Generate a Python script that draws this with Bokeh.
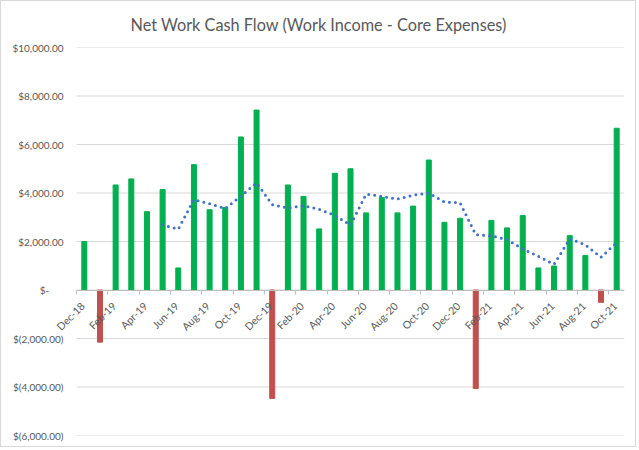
import math
from bokeh.plotting import figure
from bokeh.models import ColumnDataSource, Range1d, FixedTicker, Label
from bokeh.embed import file_html
from bokeh.resources import INLINE

# ---- data ----
months = ["Dec-18",
          "Jan-19", "Feb-19", "Mar-19", "Apr-19", "May-19", "Jun-19",
          "Jul-19", "Aug-19", "Sep-19", "Oct-19", "Nov-19", "Dec-19",
          "Jan-20", "Feb-20", "Mar-20", "Apr-20", "May-20", "Jun-20",
          "Jul-20", "Aug-20", "Sep-20", "Oct-20", "Nov-20", "Dec-20",
          "Jan-21", "Feb-21", "Mar-21", "Apr-21", "May-21", "Jun-21",
          "Jul-21", "Aug-21", "Sep-21", "Oct-21"]

net_flow = [2000,
            -2150, 4330, 4580, 3230, 4140, 910,
            5170, 3310, 3400, 6310, 7420, -4470,
            4330, 3860, 2520, 4810, 5000, 3180,
            3810, 3180, 3460, 5360, 2790, 2960,
            -4060, 2870, 2560, 3070, 910, 990,
            2240, 1420, -510, 6670]

# 6-period moving average trendline (May-19 .. Oct-21)
trend_start = 5
moving_avg_6 = [2688, 2507, 3727, 3557, 3360, 3873, 4420, 3523,
                3383, 3475, 3328, 3078, 2675, 3950, 3863, 3750,
                3907, 3998, 3630, 3593, 2282, 2230, 2080, 1698,
                1385, 1057, 2107, 1865, 1353, 1953]

y_ticks = [-6000, -4000, -2000, 0, 2000, 4000, 6000, 8000, 10000]
y_tick_labels = ["$(6,000.00)", "$(4,000.00)", "$(2,000.00)", "$-\u2007\u2007\u00a0",
                 "$2,000.00", "$4,000.00", "$6,000.00", "$8,000.00", "$10,000.00"]

title_text = "Net Work Cash Flow (Work Income - Core Expenses)"

# ---- styles / layout ----
GREEN = "#00B050"
RED = "#C0504D"
BLUE = "#4472C4"
TEXT = "#595959"
GRID = "#D9D9D9"
AXIS = "#BFBFBF"
FONT = "Lato"

W, H = 636, 447
BORDER_L, BORDER_R, BORDER_T, BORDER_B = 54, 13, 46, 13
LABEL_ROOM = 21          # px of frame kept left of the first category for its label
frame_w = W - BORDER_L - BORDER_R
n = len(months)
cat_px = (frame_w - LABEL_ROOM) / n
x_start = -0.5 - LABEL_ROOM / cat_px

idx = list(range(n))
bars = ColumnDataSource(dict(
    x=idx, top=net_flow,
    color=[GREEN if v >= 0 else RED for v in net_flow],
))
trend = ColumnDataSource(dict(
    x=idx[trend_start:trend_start + len(moving_avg_6)], y=moving_avg_6,
))
grid = ColumnDataSource(dict(
    x0=[-0.5] * len(y_ticks), x1=[n - 0.5] * len(y_ticks), y=y_ticks,
))
label_idx = idx[::2]

p = figure(width=W, height=H, output_backend="svg", toolbar_location=None,
           x_range=Range1d(x_start, n - 0.5),
           y_range=Range1d(y_ticks[0], y_ticks[-1]),
           min_border_left=BORDER_L, min_border_right=BORDER_R,
           min_border_top=BORDER_T, min_border_bottom=BORDER_B)
p.styles = {"border": "1px solid #D9D9D9"}
p.outline_line_color = None
p.background_fill_color = "white"
p.border_fill_color = "white"
p.xgrid.visible = False
p.ygrid.visible = False

# horizontal gridlines spanning the categories only
p.segment(x0="x0", x1="x1", y0="y", y1="y", source=grid,
          line_color=GRID, line_width=1)

p.vbar(x="x", top="top", bottom=0, width=0.32, color="color", source=bars)
p.line(x="x", y="y", source=trend, line_color=BLUE, line_width=3,
       line_dash="0 6", line_cap="round")

# title
p.title.text = title_text
p.title.align = "left"
p.title.offset = 75
p.title.vertical_align = "top"
p.title.text_font = FONT
p.title.text_font_size = "16.3px"
p.title.text_font_style = "normal"
p.title.text_color = TEXT
p.title.standoff = 24
if "text_line_height" in p.title.properties():
    p.title.text_line_height = 1.0

# y axis (labels end 13px left of the first category boundary)
ya = p.yaxis[0]
ya.ticker = FixedTicker(ticks=y_ticks)
ya.major_label_overrides = {t: l for t, l in zip(y_ticks, y_tick_labels)}
ya.axis_line_color = None
ya.major_tick_line_color = None
ya.major_tick_in = 0
ya.major_tick_out = 0
ya.minor_tick_line_color = None
ya.minor_tick_out = 0
ya.major_label_standoff = 13 - LABEL_ROOM
ya.major_label_text_font = FONT
ya.major_label_text_font_size = "10px"
ya.major_label_text_color = TEXT

# category axis on the zero line: tick marks between every second month
xa = p.xaxis[0]
boundaries = [i - 0.5 for i in label_idx]
xa.fixed_location = 0
xa.bounds = (-0.5, n - 0.5)
xa.ticker = FixedTicker(ticks=boundaries)
xa.major_label_overrides = {b: "" for b in boundaries}
xa.axis_line_color = AXIS
xa.major_tick_line_color = AXIS
xa.major_tick_in = 0
xa.major_tick_out = 4
xa.minor_tick_line_color = None

# month labels (rotated), anchored at the zero line under each labelled month
for i in label_idx:
    p.add_layout(Label(x=i, y=0, text=months[i],
                       angle=math.pi / 4, text_align="right", text_baseline="middle",
                       x_offset=-1.5, y_offset=-14,
                       text_font=FONT, text_font_size="10.5px", text_color=TEXT))

open("out.html", "w").write(file_html(p, INLINE))
